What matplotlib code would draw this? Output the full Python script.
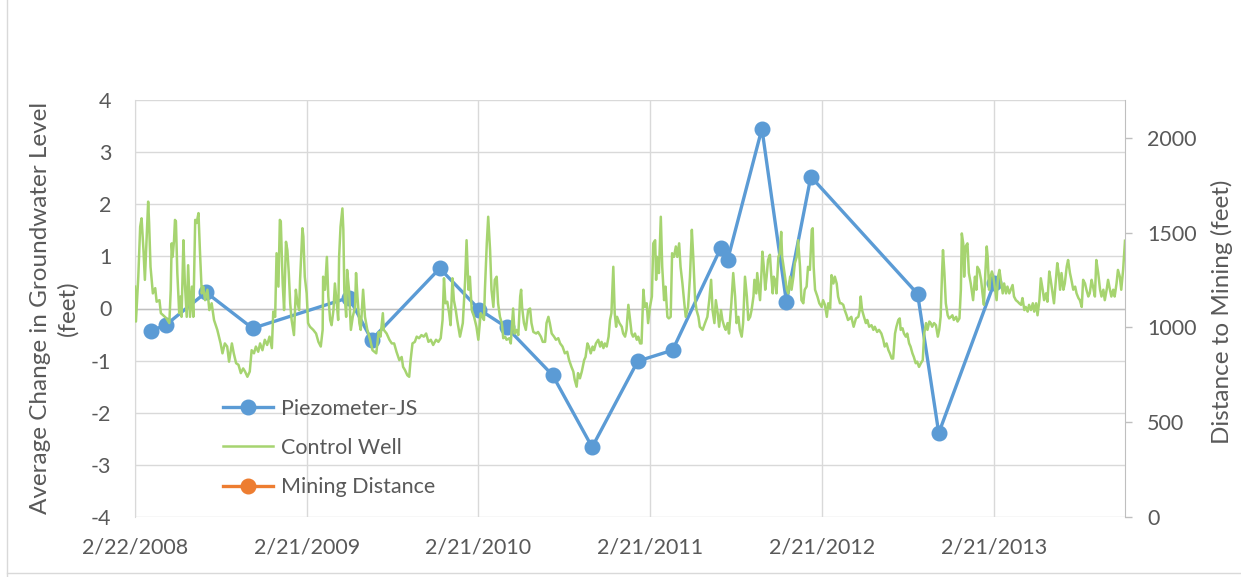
import matplotlib
matplotlib.use("Agg")
import matplotlib.pyplot as plt
from matplotlib.lines import Line2D
import pandas as pd

plt.rcParams['font.family'] = ['Lato', 'DejaVu Sans']

TEXT = '#595959'
GRID = '#D9D9D9'

# ---- data -------------------------------------------------------------
start_date = pd.Timestamp('2008-02-22')
end_date = pd.Timestamp('2013-11-27')

# Piezometer-JS readings (days after start_date, change in feet)
piezo_day = [33, 65, 151, 250, 455, 503, 648, 732, 790, 888, 972,
             1069, 1143, 1246, 1260, 1333, 1385, 1437, 1664, 1709, 1827]
piezo_change = [-0.43, -0.32, 0.31, -0.38, 0.21, -0.60, 0.77, -0.02, -0.36,
                -1.28, -2.66, -1.01, -0.80, 1.17, 0.93, 3.45, 0.13, 2.53,
                0.28, -2.39, 0.49]

# Control well record (days after start_date, change in feet)
control_day = [
    0, 2, 7, 11, 14, 18, 21, 25, 28, 30, 33, 38, 43, 46, 52, 55, 60, 67, 73,
    76, 78, 80, 83, 85, 87, 90, 94, 97, 99, 103, 106, 110, 113, 117, 121, 124,
    128, 131, 135, 138, 142, 145, 149, 154, 158, 163, 168, 175, 182, 186, 191,
    196, 200, 206, 210, 215, 220, 225, 230, 234, 239, 244, 248, 253, 257, 262,
    266, 271, 276, 281, 286, 291, 294, 298, 301, 305, 308, 310, 314, 317, 321,
    324, 327, 330, 333, 338, 342, 345, 349, 351, 353, 356, 358, 361, 365, 368,
    372, 379, 385, 390, 395, 399, 400, 404, 408, 411, 415, 418, 422, 425, 429,
    432, 434, 437, 441, 443, 445, 449, 451, 455, 459, 463, 468, 470, 473, 477,
    480, 485, 489, 494, 500, 505, 513, 518, 522, 527, 529, 535, 541, 546, 551,
    556, 562, 567, 570, 574, 579, 583, 586, 590, 595, 599, 604, 609, 614, 619,
    624, 629, 634, 640, 645, 650, 654, 657, 660, 664, 668, 671, 675, 678, 682,
    685, 691, 697, 702, 705, 709, 712, 716, 721, 726, 730, 735, 739, 742, 744,
    748, 751, 755, 758, 762, 765, 769, 772, 776, 780, 783, 787, 790, 796, 799,
    801, 804, 807, 811, 815, 819, 821, 823, 827, 831, 836, 840, 843, 847, 853,
    857, 863, 867, 872, 875, 879, 882, 886, 891, 895, 900, 904, 909, 914, 919,
    923, 928, 932, 935, 939, 942, 946, 950, 955, 958, 962, 965, 969, 973, 976,
    980, 985, 989, 992, 996, 999, 1003, 1007, 1010, 1013, 1017, 1020, 1023,
    1025, 1030, 1035, 1038, 1042, 1045, 1049, 1052, 1056, 1059, 1063, 1067,
    1070, 1074, 1077, 1081, 1084, 1088, 1091, 1095, 1099, 1102, 1106, 1108,
    1110, 1114, 1118, 1121, 1125, 1128, 1132, 1135, 1139, 1142, 1146, 1150,
    1153, 1157, 1160, 1164, 1168, 1171, 1176, 1180, 1184, 1187, 1191, 1194,
    1198, 1201, 1207, 1212, 1217, 1221, 1225, 1228, 1232, 1235, 1239, 1242,
    1246, 1249, 1253, 1256, 1260, 1263, 1268, 1272, 1276, 1279, 1283, 1286,
    1290, 1293, 1297, 1301, 1304, 1308, 1311, 1315, 1317, 1321, 1323, 1326,
    1329, 1332, 1334, 1337, 1340, 1343, 1346, 1350, 1353, 1356, 1358, 1361,
    1364, 1368, 1371, 1374, 1376, 1378, 1382, 1386, 1389, 1393, 1396, 1400,
    1403, 1407, 1410, 1414, 1417, 1421, 1424, 1428, 1431, 1435, 1439, 1441,
    1443, 1446, 1451, 1455, 1460, 1463, 1467, 1471, 1474, 1478, 1481, 1485,
    1488, 1492, 1495, 1499, 1502, 1506, 1509, 1513, 1516, 1520, 1523, 1528,
    1533, 1538, 1541, 1543, 1546, 1550, 1554, 1557, 1561, 1566, 1570, 1573,
    1578, 1582, 1587, 1591, 1594, 1598, 1602, 1605, 1609, 1612, 1616, 1619,
    1623, 1626, 1628, 1632, 1635, 1639, 1642, 1646, 1649, 1653, 1656, 1660,
    1663, 1667, 1671, 1675, 1678, 1682, 1685, 1689, 1692, 1695, 1699, 1703,
    1707, 1710, 1713, 1716, 1718, 1721, 1724, 1728, 1731, 1735, 1738, 1741,
    1746, 1749, 1753, 1756, 1758, 1761, 1763, 1766, 1770, 1773, 1777, 1782,
    1786, 1789, 1791, 1795, 1799, 1802, 1805, 1808, 1811, 1813, 1816, 1819,
    1822, 1825, 1828, 1832, 1835, 1838, 1841, 1845, 1848, 1852, 1855, 1859,
    1862, 1866, 1869, 1873, 1877, 1880, 1884, 1887, 1891, 1894, 1898, 1901,
    1905, 1909, 1912, 1916, 1919, 1923, 1926, 1930, 1933, 1937, 1940, 1944,
    1947, 1951, 1954, 1958, 1961, 1964, 1967, 1970, 1974, 1977, 1981, 1984,
    1988, 1991, 1995, 1999, 2002, 2006, 2009, 2013, 2016, 2020, 2023, 2027,
    2030, 2034, 2037, 2041, 2044, 2048, 2052, 2055, 2059, 2062, 2066, 2069,
    2073, 2076, 2080, 2083, 2087, 2090, 2094, 2097, 2101, 2105]
control_change = [
    0.42, -0.25, 0.61, 1.57, 1.73, 1.12, 0.55, 1.38, 2.05, 1.64, 0.80, 0.29,
    0.39, 0.13, 0.16, -0.09, -0.13, -0.19, -0.28, 0.36, 1.25, 0.99, 1.31, 1.70,
    1.67, 0.68, -0.09, 0.23, -0.16, 1.31, 0.48, -0.16, 0.83, -0.16, 0.42, -0.16,
    1.70, 1.64, 1.83, 1.12, 0.29, 0.42, 0.16, 0.36, -0.03, 0.10, -0.22, -0.41,
    -0.67, -0.86, -0.67, -0.73, -1.02, -0.67, -0.86, -1.05, -1.08, -1.24, -1.15,
    -1.21, -1.31, -1.21, -0.80, -0.86, -0.73, -0.83, -0.67, -0.80, -0.60, -0.70,
    -0.54, -0.76, -0.06, -0.16, 1.06, 0.42, 1.70, 1.67, 0.48, -0.03, 1.28, 1.12,
    0.68, 0.10, -0.22, -0.51, 0.36, 0.13, -0.03, 0.55, 0.93, 1.54, 1.38, 0.61,
    0.29, -0.28, -0.35, -0.41, -0.48, -0.64, -0.73, -0.41, 0.61, 0.36, 0.99,
    0.23, -0.22, -0.32, -0.03, 0.48, 0.10, -0.22, 0.99, 1.57, 1.92, 1.51, 0.36,
    -0.16, 0.74, 0.36, -0.41, -0.16, 0.03, 0.68, 0.23, -0.28, -0.41, 0.36,
    -0.16, -0.41, -0.60, -0.80, -0.86, -0.45, -0.54, -0.09, -0.41, -0.48, -0.60,
    -0.67, -0.67, -0.83, -0.99, -0.93, -1.12, -1.18, -1.28, -1.31, -0.99, -0.67,
    -0.64, -0.54, -0.57, -0.51, -0.54, -0.48, -0.64, -0.60, -0.70, -0.60, -0.64,
    -0.57, -0.22, 0.58, 0.10, 0.13, -0.09, -0.32, 0.58, 0.16, -0.03, -0.22,
    -0.54, -0.28, 0.55, 1.31, 0.36, 0.61, -0.03, -0.16, -0.35, -0.60, -0.09,
    -0.16, -0.22, 0.36, 1.25, 1.76, 1.12, 0.36, 0.03, 0.55, 0.61, 0.10, -0.16,
    -0.28, -0.57, -0.54, -0.60, -0.57, -0.67, -0.41, 0.00, -0.48, -0.41, -0.51,
    0.23, 0.36, 0.03, -0.28, -0.41, -0.03, 0.00, -0.28, -0.45, -0.48, -0.45,
    -0.54, -0.64, -0.64, -0.28, -0.16, -0.28, -0.48, -0.54, -0.60, -0.57, -0.67,
    -0.73, -0.86, -0.83, -0.99, -1.12, -1.21, -1.37, -1.50, -1.24, -1.34, -1.21,
    -0.99, -0.93, -0.67, -0.73, -0.86, -0.73, -0.80, -0.67, -0.60, -0.73, -0.64,
    -0.76, -0.67, -0.73, -0.54, -0.22, -0.09, 0.80, -0.09, -0.35, -0.16, -0.28,
    -0.35, -0.48, -0.54, -0.41, 0.07, -0.16, -0.48, -0.54, -0.48, -0.60, -0.54,
    -0.67, -0.67, 0.36, 0.03, 0.10, -0.28, 0.03, 0.23, 1.25, 1.31, 0.55, 0.99,
    0.68, 1.76, 0.80, 0.16, 0.42, -0.16, -0.19, -0.16, 1.06, 0.99, 1.19, 0.99,
    1.25, 0.80, 0.48, 0.10, -0.16, 0.03, 0.61, 1.51, 0.99, 0.16, -0.03, -0.16,
    -0.35, -0.41, -0.28, -0.16, 0.16, 0.55, -0.03, -0.28, 0.16, -0.09, -0.35,
    -0.03, -0.22, -0.35, -0.41, -0.28, -0.48, 0.10, 0.68, 0.23, -0.28, -0.16,
    -0.41, -0.54, -0.28, 0.61, 0.23, -0.22, -0.16, -0.03, 0.23, 0.55, 0.29,
    0.68, 0.42, 0.16, 0.68, 1.09, 0.80, 0.36, 0.61, 0.93, 1.03, 0.61, 0.29,
    0.61, 0.55, 0.29, 0.99, 1.06, 1.47, 0.99, 0.87, 0.61, 0.36, 0.29, 0.61,
    0.36, 0.61, 0.87, 0.99, 1.31, 0.80, 0.16, 0.10, 0.36, 0.42, 0.80, 0.74,
    1.51, 1.54, 0.80, 0.36, 0.23, 0.10, 0.03, 0.16, 0.07, -0.16, 0.10, 0.00,
    0.64, 0.48, 0.61, 0.48, 0.23, 0.10, 0.10, 0.07, -0.03, -0.13, -0.22, -0.19,
    -0.16, -0.35, -0.19, -0.16, -0.03, 0.23, -0.03, -0.16, -0.28, -0.22, -0.35,
    -0.32, -0.41, -0.35, -0.45, -0.41, -0.48, -0.60, -0.73, -0.67, -0.80, -0.86,
    -0.96, -0.96, -0.48, -0.35, -0.22, -0.19, -0.41, -0.38, -0.48, -0.54, -0.48,
    -0.67, -0.73, -0.86, -0.93, -1.05, -1.02, -1.12, -1.05, -0.99, -0.48, -0.28,
    -0.41, -0.25, -0.28, -0.35, -0.28, -0.32, -0.54, -0.41, -0.16, 0.68, 1.12,
    0.68, 0.10, -0.13, -0.19, -0.16, -0.13, -0.22, -0.16, -0.25, -0.19, 0.36,
    1.44, 1.25, 0.61, 1.19, 1.25, 0.68, 0.48, 0.16, 0.61, 0.36, 0.80, 0.74,
    0.55, 0.29, 0.07, 0.68, 1.19, 0.99, 0.36, 0.61, 0.71, 0.61, 0.42, 0.16,
    0.61, 0.74, 0.55, 0.29, 0.48, 0.29, 0.42, 0.29, 0.36, 0.45, 0.23, 0.16,
    0.13, 0.10, 0.07, 0.20, -0.03, 0.03, -0.06, 0.07, -0.03, 0.10, -0.06, 0.10,
    -0.13, 0.16, 0.58, 0.36, 0.16, 0.29, 0.13, 0.71, 0.55, 0.29, 0.10, 0.55,
    0.87, 0.68, 0.36, 0.68, 0.36, 0.48, 0.80, 0.93, 0.68, 0.55, 0.36, 0.42,
    0.29, 0.20, 0.16, 0.03, 0.55, 0.48, 0.36, 0.23, 0.29, 0.55, 0.42, 0.23,
    0.93, 0.68, 0.36, 0.23, 0.36, 0.16, 0.36, 0.55, 0.36, 0.23, 0.36, 0.23,
    0.48, 0.74, 0.61, 0.36, 0.74, 1.30]

# Mining distance (feet) - no readings fall inside the plotted window
mining_day = []
mining_distance = []

tick_dates = ['2008-02-22', '2009-02-21', '2010-02-21', '2011-02-21',
              '2012-02-21', '2013-02-21']
tick_labels = ['2/22/2008', '2/21/2009', '2/21/2010', '2/21/2011',
               '2/21/2012', '2/21/2013']
left_ticks = [-4, -3, -2, -1, 0, 1, 2, 3, 4]
right_ticks = [0, 500, 1000, 1500, 2000]


def to_dates(days):
    return start_date + pd.to_timedelta(days, unit='D')


# ---- figure -----------------------------------------------------------
W, H = 1241, 577
fig = plt.figure(figsize=(W / 100, H / 100), dpi=100)
fig.patch.set_facecolor('white')

ax = fig.add_axes([135 / W, 60 / H, 990 / W, 417 / H])
ax2 = ax.twinx()

ax.plot(to_dates(piezo_day), piezo_change, color='#5B9BD5', lw=2.4,
        marker='o', ms=10.5, zorder=3, label='Piezometer-JS')
ax.plot(to_dates(control_day), control_change, color='#A6D470', lw=1.8,
        zorder=4, label='Control Well')
ax2.plot(to_dates(mining_day), mining_distance, color='#ED7D31', lw=2.4,
         marker='o', ms=10.5, label='Mining Distance')

ax.set_xlim(start_date, end_date)
ax.set_ylim(-4, 4)
ax2.set_ylim(0, 2200)

ax.set_yticks(left_ticks)
ax.set_yticklabels([str(v) for v in left_ticks])
ax2.set_yticks(right_ticks)
ax2.set_yticklabels([str(v) for v in right_ticks])
ax.set_xticks(pd.to_datetime(tick_dates))
ax.set_xticklabels(tick_labels)

ax.grid(True, color=GRID, lw=1.0, zorder=0)
ax.set_axisbelow(True)
ax.axhline(0, color='#BFBFBF', lw=1.0, zorder=1)

for a in (ax, ax2):
    for s in a.spines.values():
        s.set_visible(False)
ax.spines['left'].set_visible(True)
ax.spines['left'].set_color(GRID)
ax2.spines['right'].set_visible(True)
ax2.spines['right'].set_color('#BFBFBF')

ax.tick_params(axis='x', length=0, pad=15, labelsize=15.5, labelcolor=TEXT)
ax.tick_params(axis='y', length=0, pad=17, labelsize=15.5, labelcolor=TEXT)
ax2.tick_params(axis='y', length=5, width=1, color='#BFBFBF', pad=11,
                labelsize=15.5, labelcolor=TEXT)

fig.text(54 / W, 1 - 308 / H, 'Average Change in Groundwater Level\n(feet)',
         rotation=90, ha='center', va='center', multialignment='center',
         fontsize=17.5, color=TEXT, linespacing=1.35)
fig.text(1222 / W, 1 - 312 / H, 'Distance to Mining (feet)', rotation=90,
         ha='center', va='center', fontsize=17.5, color=TEXT)

handles = [ax.get_lines()[0], ax.get_lines()[1], ax2.get_lines()[0]]
leg = ax.legend(handles, [h.get_label() for h in handles], loc='upper left',
                bbox_to_anchor=(79 / 990, 1 - 290 / 417), frameon=False,
                fontsize=15.5, labelcolor=TEXT, handlelength=2.35,
                handletextpad=0.35, labelspacing=0.9, borderaxespad=0)
leg.set_zorder(5)

# chart area border
fig.add_artist(Line2D([7 / W, 7 / W], [0, 1], color=GRID, lw=1.0))
fig.add_artist(Line2D([7 / W, 1], [4 / H, 4 / H], color=GRID, lw=1.0))

fig.savefig('out.png', dpi=100, facecolor='white')
